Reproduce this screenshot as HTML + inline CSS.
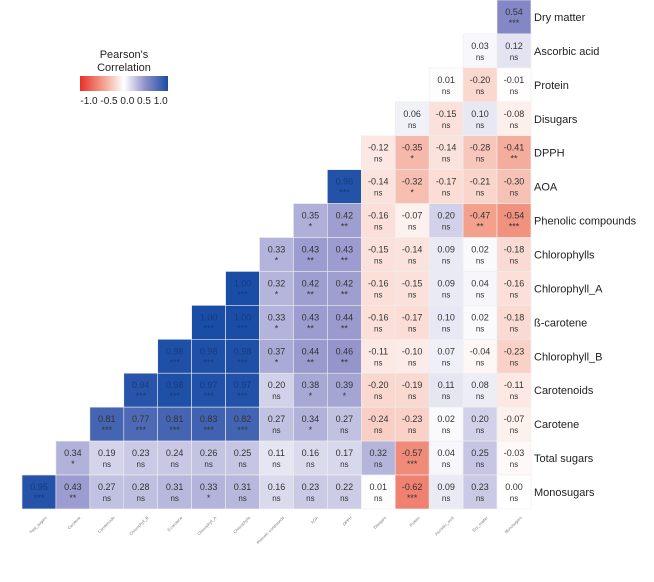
<!DOCTYPE html>
<html><head><meta charset="utf-8"><style>
body{margin:0;background:#fff;font-family:"Liberation Sans",sans-serif;}
svg{display:block}
</style></head><body>
<svg id="chart" width="654" height="582">
<defs><linearGradient id="lg" x1="0" x2="1" y1="0" y2="0">
<stop offset="0" stop-color="#e8302a"/><stop offset="0.25" stop-color="#f29a86"/><stop offset="0.5" stop-color="#ffffff"/><stop offset="0.75" stop-color="#8c8cc8"/><stop offset="1" stop-color="#1a4da6"/></linearGradient></defs>
<g>
<text x="124" y="58" font-size="11" text-anchor="middle" fill="#222">Pearson's</text>
<text x="124" y="71" font-size="11" text-anchor="middle" fill="#222">Correlation</text>
<rect x="80" y="76" width="88" height="15" fill="url(#lg)"/>
<text x="124" y="104" font-size="10" text-anchor="middle" fill="#222">-1.0 -0.5 0.0 0.5 1.0</text>
</g>
<g id="cells"></g>
</svg>
<script>
const rowLabels=["Dry matter","Ascorbic acid","Protein","Disugars","DPPH","AOA","Phenolic compounds","Chlorophylls","Chlorophyll_A","ß-carotene","Chlorophyll_B","Carotenoids","Carotene","Total sugars","Monosugars"];
const colLabels=["Total_sugars","Carotene","Carotenoids","Chlorophyll_B","ß-carotene","Chlorophyll_A","Chlorophylls","Phenolic compounds","AOA","DPPH","Disugars","Protein","Ascorbic_acid","Dry_matter","Monosugars"];
const values=[
[0.54],
[0.03,0.12],
[0.01,-0.20,-0.01],
[0.06,-0.15,0.10,-0.08],
[-0.12,-0.35,-0.14,-0.28,-0.41],
[0.96,-0.14,-0.32,-0.17,-0.21,-0.30],
[0.35,0.42,-0.16,-0.07,0.20,-0.47,-0.54],
[0.33,0.43,0.43,-0.15,-0.14,0.09,0.02,-0.18],
[1.00,0.32,0.42,0.42,-0.16,-0.15,0.09,0.04,-0.16],
[1.00,1.00,0.33,0.43,0.44,-0.16,-0.17,0.10,0.02,-0.18],
[0.98,0.98,0.98,0.37,0.44,0.46,-0.11,-0.10,0.07,-0.04,-0.23],
[0.94,0.98,0.97,0.97,0.20,0.38,0.39,-0.20,-0.19,0.11,0.08,-0.11],
[0.81,0.77,0.81,0.83,0.82,0.27,0.34,0.27,-0.24,-0.23,0.02,0.20,-0.07],
[0.34,0.19,0.23,0.24,0.26,0.25,0.11,0.16,0.17,0.32,-0.57,0.04,0.25,-0.03],
[0.95,0.43,0.27,0.28,0.31,0.33,0.31,0.16,0.23,0.22,0.01,-0.62,0.09,0.23,0.00]];
const sig=[
["***"],
["ns","ns"],
["ns","ns","ns"],
["ns","ns","ns","ns"],
["ns","*","ns","ns","**"],
["***","ns","*","ns","ns","ns"],
["*","**","ns","ns","ns","**","***"],
["*","**","**","ns","ns","ns","ns","ns"],
["***","*","**","**","ns","ns","ns","ns","ns"],
["***","***","*","**","**","ns","ns","ns","ns","ns"],
["***","***","***","*","**","**","ns","ns","ns","ns","ns"],
["***","***","***","***","ns","*","*","ns","ns","ns","ns","ns"],
["***","***","***","***","***","ns","*","ns","ns","ns","ns","ns","ns"],
["*","ns","ns","ns","ns","ns","ns","ns","ns","ns","***","ns","ns","ns"],
["***","**","ns","ns","ns","*","ns","ns","ns","ns","ns","***","ns","ns","ns"]];
const X0=22,Y0=0,CW=33.93,CH=33.93,N=15;
const xPos=c=>X0+c*CW, yPos=r=>Y0+r*CH;
function mix(a,b,t){const p=s=>[1,3,5].map(i=>parseInt(s.substr(i,2),16));const A=p(a),B=p(b);return "rgb("+A.map((v,i)=>Math.round(v+(B[i]-v)*t)).join(",")+")";}
function color(v){if(v>=0){return v<=0.5?mix("#ffffff","#8c8cc8",v/0.5):mix("#8c8cc8","#1a4da6",(v-0.5)/0.5);}
 const a=-v;return a<=0.5?mix("#ffffff","#f29a86",a/0.5):mix("#f29a86","#e8302a",(a-0.5)/0.5);}
const svg=document.getElementById("cells");const NS="http://www.w3.org/2000/svg";
function mk(t,at){const e=document.createElementNS(NS,t);for(const k in at)e.setAttribute(k,at[k]);return e;}
values.forEach((row,r)=>{const start=N-row.length;row.forEach((v,i)=>{const c=start+i;
 const g=mk("g",{});
 
 
 const rc=mk("rect",{x:xPos(c),y:yPos(r),width:CW,height:CH,fill:color(v),stroke:"#eeeeee","stroke-width":0.6});
 g.appendChild(rc);
 const tc=Math.abs(v)>0.9?"#173a80":"#333";
 const t1=mk("text",{x:xPos(c)+CW/2,y:yPos(r)+15,"font-size":9,"text-anchor":"middle",fill:tc});t1.textContent=v.toFixed(2);
 
 
 const t2=mk("text",{x:xPos(c)+CW/2,y:yPos(r)+26,"font-size":sig[r][i]=="ns"?8:9,"text-anchor":"middle",fill:tc});t2.textContent=sig[r][i];
 
 
 g.appendChild(t1);g.appendChild(t2);svg.appendChild(g);});});
rowLabels.forEach((l,r)=>{const t=mk("text",{x:534,y:yPos(r)+CH/2+4,"font-size":11,fill:"#222"});t.textContent=l;
 
 
 svg.appendChild(t);});
colLabels.forEach((l,c)=>{const x=xPos(c)+CW/2+8,y=518;const t=mk("text",{x:x,y:y,"font-size":4,fill:"#777","text-anchor":"end",transform:`rotate(-45 ${x} ${y})`});t.textContent=l;
 
 
 svg.appendChild(t);});
</script>
</body></html>
